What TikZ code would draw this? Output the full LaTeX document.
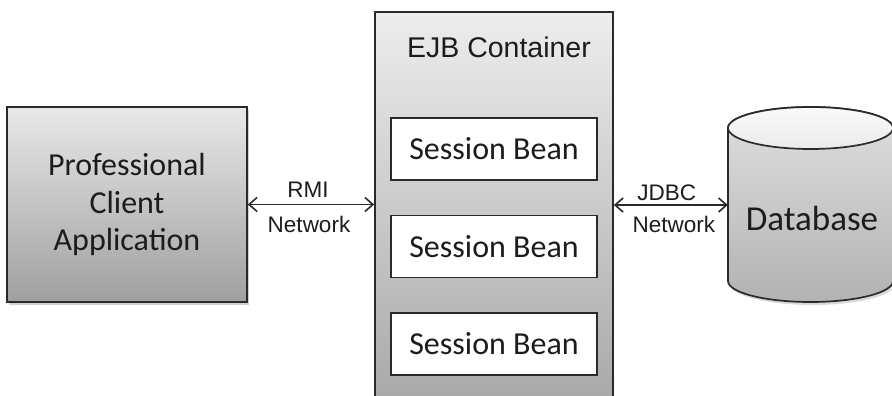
\documentclass[tikz,border=0pt]{standalone}
\usepackage{fontspec}
\setmainfont{Carlito}
\newfontfamily\arialfont{Liberation Sans}
\usetikzlibrary{arrows.meta,shadows}
\definecolor{inkc}{HTML}{1C1C1C}
\definecolor{edgec}{HTML}{2A2A2A}
\tikzset{
  greybox/.style={draw=edgec, line width=1.7pt, rectangle, inner sep=0pt, align=center, text=inkc},
  beanbox/.style={draw=edgec, line width=1.6pt, fill=white, rectangle, minimum width=206pt, minimum height=62pt, inner sep=0pt, text=inkc, font=\fontsize{32}{36}\selectfont},
  netlabel/.style={text=inkc, font=\arialfont\fontsize{22.5}{26}\selectfont, inner sep=0pt},
  linkarrow/.style={draw=edgec, line width=1.6pt, {Straight Barb[length=8pt,width=14pt,line width=1.6pt]}-{Straight Barb[length=8pt,width=14pt,line width=1.6pt]}},
  softshadow/.style={drop shadow={opacity=0.18, shadow xshift=2pt, shadow yshift=-3pt, fill=black}}
}
\begin{document}
\begin{tikzpicture}[x=1pt,y=-1pt]
\useasboundingbox (0,0) rectangle (892,396);
\clip (0,0) rectangle (892,396);
\fill[white] (0,0) rectangle (892,396);

% Client application
\node[greybox, softshadow, minimum width=240pt, minimum height=195pt,
      top color=gray!18, bottom color=gray!75,
      font=\fontsize{32}{37.5}\selectfont] (client) at (127,204.5)
      {Professional\\Client\\Application};

% EJB container
\node[greybox, minimum width=238pt, minimum height=390pt,
      top color=gray!14, bottom color=gray!68] (cont) at (494,207) {};
\node[text=inkc, font=\arialfont\fontsize{28.5}{32}\selectfont, inner sep=0pt] (ejb) at (499,47) {EJB Container};

\node[beanbox] (bean1) at (494,149) {Session Bean};
\node[beanbox] (bean2) at (494,246.5) {Session Bean};
\node[beanbox] (bean3) at (494,344) {Session Bean};

% Database cylinder
\node[minimum width=165pt, minimum height=196pt, inner sep=0pt] (db) at (810.5,205) {};
\fill[black, opacity=0.15] ([xshift=2pt,yshift=-3pt]728,128) -- ([xshift=2pt,yshift=-3pt]728,281)
   arc[start angle=180, end angle=360, x radius=82.5pt, y radius=21pt] -- ([xshift=2pt,yshift=-3pt]893,128) -- cycle;
\path[draw=edgec, line width=1.7pt, top color=gray!25, bottom color=gray!60]
   (728,128) -- (728,281)
   arc[start angle=180, end angle=360, x radius=82.5pt, y radius=21pt]
   -- (893,128) arc[start angle=0, end angle=180, x radius=82.5pt, y radius=21pt] -- cycle;
\path[draw=edgec, line width=1.7pt, top color=gray!4, bottom color=gray!16]
   (810.5,128) ellipse[x radius=82.5pt, y radius=21pt];
\node[text=inkc, font=\fontsize{35}{40}\selectfont, inner sep=0pt] (dbtext) at (812,218) {Database};

% Connectors
\draw[linkarrow] (client.east) -- (client.east -| cont.west)
   node[midway, netlabel, above=6pt, xshift=-3pt] {RMI}
   node[midway, netlabel, below=11pt, xshift=-2pt] {Network};
\draw[linkarrow] (cont.east |- db.west) -- (db.west)
   node[midway, netlabel, above=3.5pt, xshift=-4pt] {JDBC}
   node[midway, netlabel, below=10.5pt, xshift=3pt] {Network};
\end{tikzpicture}
\end{document}
